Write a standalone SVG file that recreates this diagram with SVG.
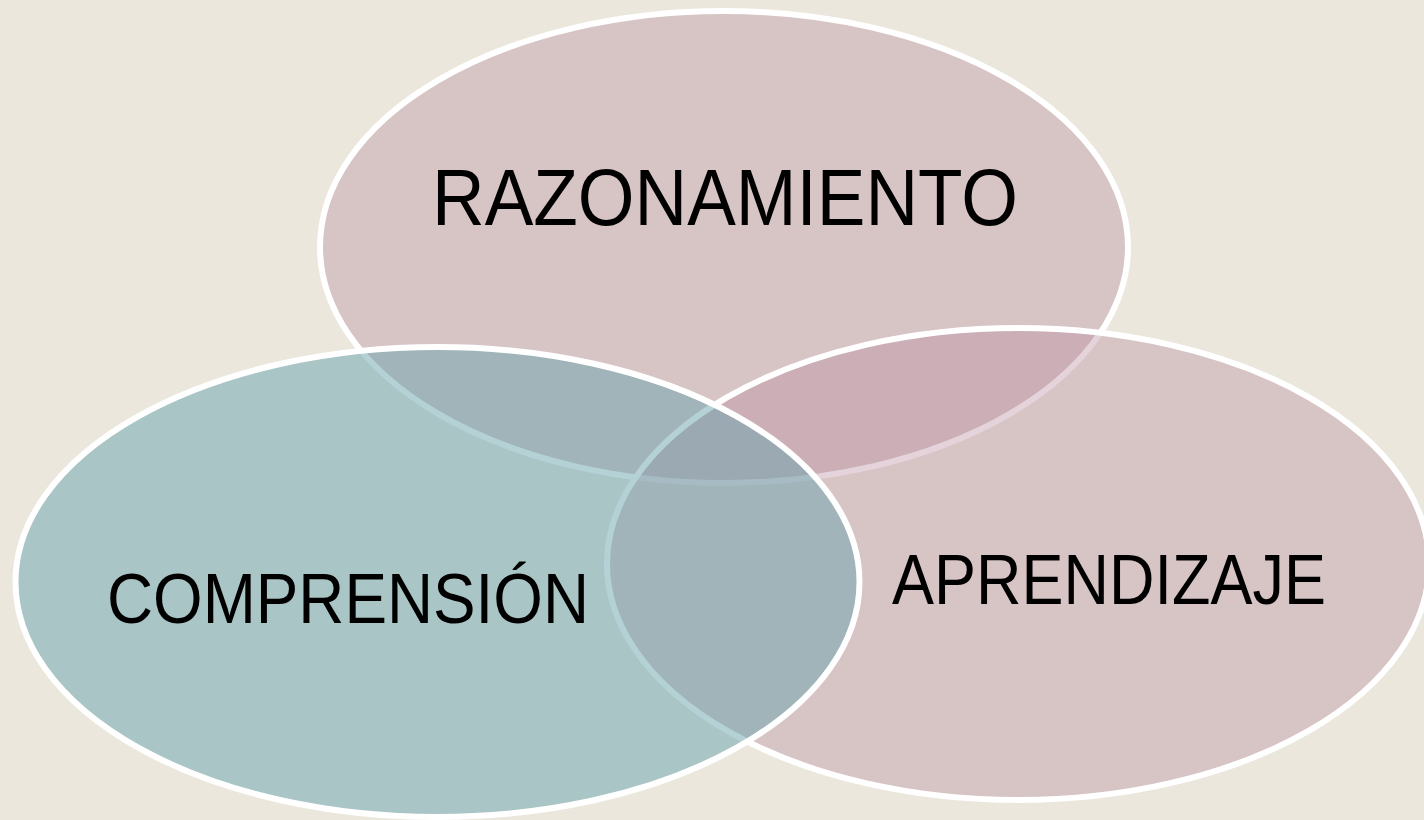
<svg xmlns="http://www.w3.org/2000/svg" width="1424" height="820" viewBox="0 0 1424 820">
<style>
.circ{stroke:#FFFFFF;stroke-width:6}
.pink{fill:#B88B9E;fill-opacity:0.375}
.teal{fill:#69A3AE;fill-opacity:0.5}
.lbl{font-family:"Liberation Sans",Arial,sans-serif;fill:#000000}
</style>
<rect x="0" y="0" width="1424" height="820" fill="#EBE7DD"/>
<g id="node-razonamiento">
<ellipse class="circ pink" cx="724" cy="247" rx="404" ry="236"/>
<text class="lbl" x="432" y="225" font-size="80" textLength="586" lengthAdjust="spacingAndGlyphs">RAZONAMIENTO</text>
</g>
<g id="node-aprendizaje">
<ellipse class="circ pink" cx="1018" cy="564" rx="411" ry="236"/>
<text class="lbl" x="892" y="604" font-size="70" textLength="434" lengthAdjust="spacingAndGlyphs">APRENDIZAJE</text>
</g>
<g id="node-comprension">
<ellipse class="circ teal" cx="437.5" cy="582" rx="422" ry="235"/>
<text class="lbl" x="107" y="623" font-size="70" textLength="482" lengthAdjust="spacingAndGlyphs">COMPRENSIÓN</text>
</g>
<g id="connectors"></g>
</svg>
